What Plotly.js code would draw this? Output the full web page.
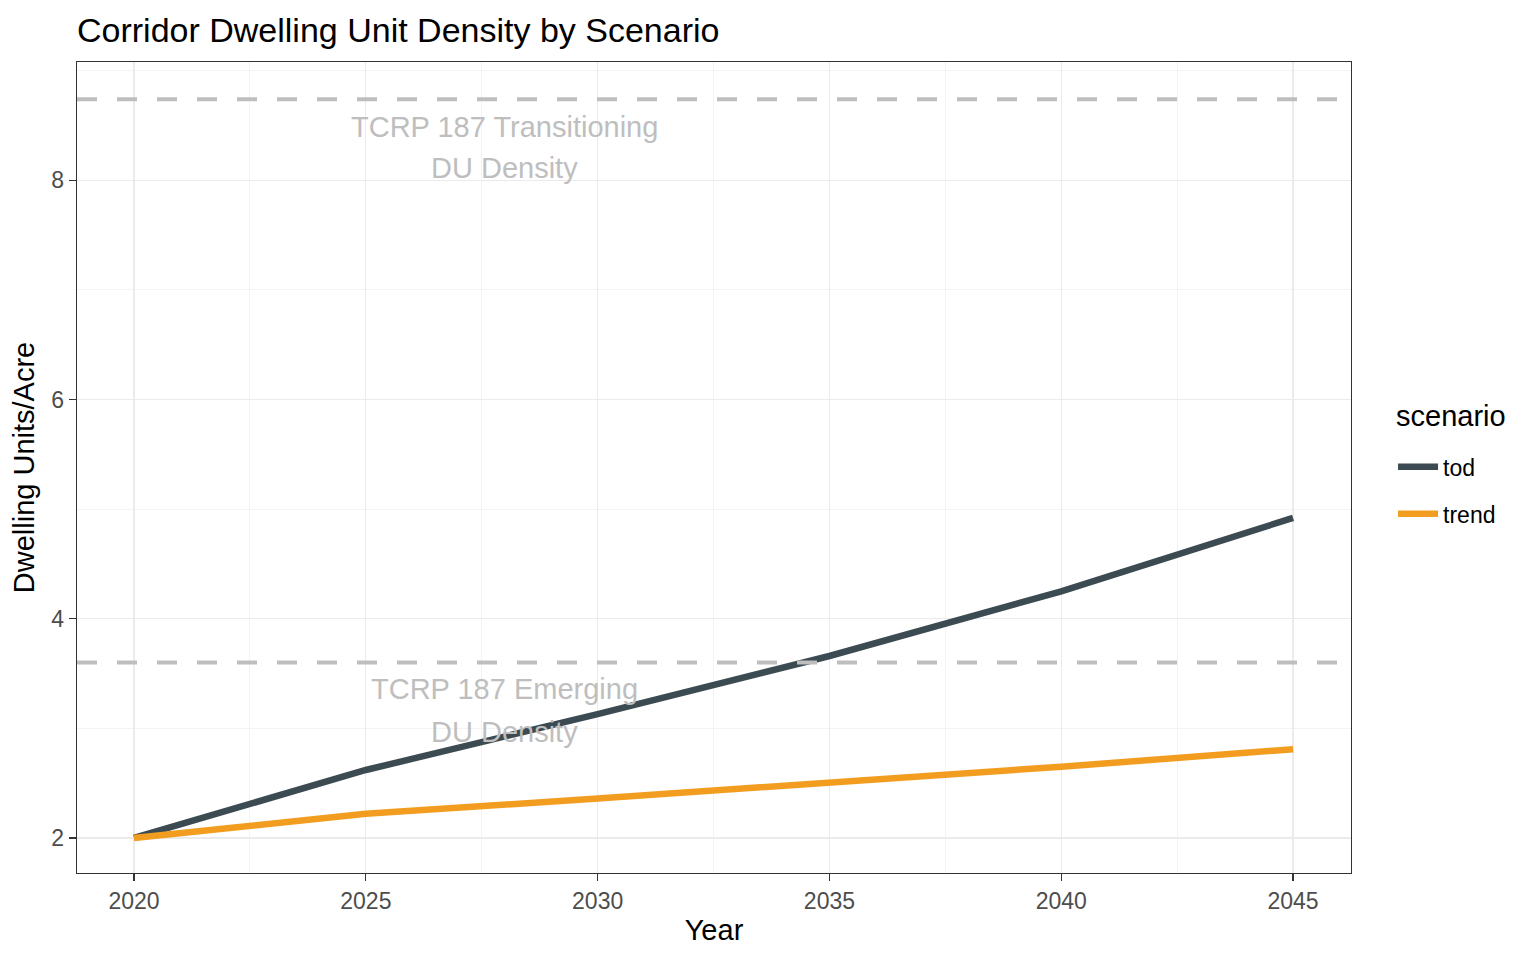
<!DOCTYPE html>
<html>
<head>
<meta charset="utf-8">
<script src="https://cdn.plot.ly/plotly-3.0.1.min.js"></script>
<style>
  html, body { margin: 0; padding: 0; background: #fff; }
  #plot { width: 1536px; height: 960px; }
</style>
</head>
<body>
<div id="plot"></div>
<script>
"use strict";

// Corridor DU density.
const years = [2020, 2025, 2030, 2035, 2040, 2045];
const todValues = [2.00, 2.62, 3.13, 3.66, 4.25, 4.92];
const trendValues = [2.00, 2.22, 2.36, 2.50, 2.65, 2.81];

// TCRP 187 reference densities (dashed horizontals)
const refLevels = [8.74, 3.60];
const refLabels = [
    ["TCRP 187 Transitioning", "DU Density"],
    ["TCRP 187 Emerging", "DU Density"],
];
const refLabelYears = [2028, 2028];
const refLabelY = [[8.49, 8.11], [3.36, 2.97]];

const FONT = "Liberation Sans, Arial, sans-serif";
const colTod = "#3C4A52";
const colTrend = "#F29D1F";

const traces = [
    { type: "scatter", mode: "lines", x: years, y: todValues,
      name: "tod", legendgroup: "tod",
      line: { color: colTod, width: 6.5 } },
    { type: "scatter", mode: "lines", x: years, y: trendValues,
      name: "trend", legendgroup: "trend",
      line: { color: colTrend, width: 6.5 } },
];

// dashed reference lines span the whole panel width
const shapes = refLevels.map(v => ({
    type: "line", xref: "x domain", x0: 0, x1: 1,
    yref: "y", y0: v, y1: v,
    line: { color: "#BEBEBE", width: 4, dash: "20px,20px" },
    layer: "above",
}));

const annotations = [];
refLabels.forEach((lines, i) => {
    lines.forEach((t, j) => {
        annotations.push({
            xref: "x", yref: "y", x: refLabelYears[i], y: refLabelY[i][j],
            text: t, showarrow: false, xanchor: "center", yanchor: "middle",
            font: { family: FONT, size: 29, color: "#BEBEBE" },
        });
    });
});
// legend heading, placed by hand so the gap to the keys matches ggplot
annotations.push({
    xref: "paper", yref: "paper", x: 1.0335, y: 0.5635,
    xanchor: "left", yanchor: "middle", showarrow: false,
    text: "scenario", font: { family: FONT, size: 29, color: "#000" },
});

const axisCommon = {
    showline: true, mirror: true, linecolor: "#333333", linewidth: 1.3,
    ticks: "outside", ticklen: 7, tickcolor: "#333333", tickwidth: 1.3,
    gridcolor: "#EBEBEB", gridwidth: 1.3, zeroline: false,
    tickfont: { family: FONT, size: 23, color: "#4D4D4D" },
};

const layout = {
    width: 1536, height: 960,
    margin: { l: 77, r: 185, t: 62, b: 87 },
    paper_bgcolor: "#fff", plot_bgcolor: "#fff",
    font: { family: FONT },
    title: {
        text: "Corridor Dwelling Unit Density by Scenario",
        xref: "paper", x: 0, xanchor: "left",
        yref: "container", y: 0.969, yanchor: "middle",
        font: { family: FONT, size: 34, color: "#000" },
    },
    xaxis: Object.assign({}, axisCommon, {
        range: [2018.77, 2046.25],
        tickvals: years, ticktext: years.map(String),
        minor: { dtick: 2.5, tick0: 2017.5, showgrid: true,
                 gridcolor: "#F3F3F3", gridwidth: 1, ticks: "" },
        title: { text: "Year", standoff: 6,
                 font: { family: FONT, size: 29, color: "#000" } },
    }),
    yaxis: Object.assign({}, axisCommon, {
        range: [1.68, 9.08],
        tickvals: [2, 4, 6, 8],
        minor: { dtick: 1, tick0: 1, showgrid: true,
                 gridcolor: "#F3F3F3", gridwidth: 1, ticks: "" },
        title: { text: "Dwelling Units/Acre", standoff: 8,
                 font: { family: FONT, size: 29, color: "#000" } },
    }),
    shapes: shapes,
    annotations: annotations,
    showlegend: true,
    legend: {
        x: 1.033, xanchor: "left", y: 0.5274, yanchor: "top",
        font: { family: FONT, size: 23, color: "#000" },
        itemwidth: 40, tracegroupgap: 14,
        bgcolor: "rgba(0,0,0,0)",
    },
};

Plotly.newPlot("plot", traces, layout, { displayModeBar: false, staticPlot: true });
</script>
</body>
</html>
